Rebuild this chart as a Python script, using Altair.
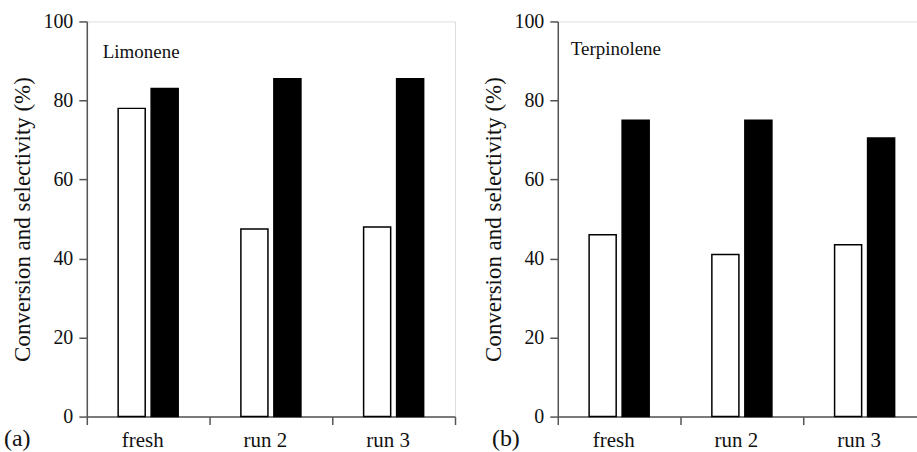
import altair as alt
import pandas as pd

runs = ["fresh", "run 2", "run 3"]
series = ["Conversion", "Selectivity"]

limonene_conversion = [78, 47.5, 48]
limonene_selectivity = [83, 85.5, 85.5]
terpinolene_conversion = [46, 41, 43.5]
terpinolene_selectivity = [75, 75, 70.5]

y_ticks = [0, 20, 40, 60, 80, 100]

FONT = "Liberation Serif"
AX = "#555555"
TXT = "#111111"
W = 369
H = 396


def panel(conv, sel, name, letter, name_x, name_y, letter_x):
    rows = []
    for r, c, s in zip(runs, conv, sel):
        rows.append({"run": r, "series": series[0], "value": c})
        rows.append({"run": r, "series": series[1], "value": s})
    df = pd.DataFrame(rows)

    bars = alt.Chart(df).mark_bar(stroke="black", strokeWidth=1.5).encode(
        x=alt.X(
            "run:N", sort=runs,
            scale=alt.Scale(paddingInner=0, paddingOuter=0),
            axis=alt.Axis(
                title=None, tickBand="extent", labelAngle=0, tickSize=8,
                labelPadding=5, labelFontSize=21, labelFont=FONT,
                labelColor=TXT, domainColor=AX, tickColor=AX,
                domainWidth=1.5, tickWidth=1.5, labelOffset=-6,
            ),
        ),
        xOffset=alt.XOffset(
            "series:N", sort=series,
            scale=alt.Scale(paddingInner=0.18, paddingOuter=0.95),
        ),
        y=alt.Y(
            "value:Q",
            scale=alt.Scale(domain=[0, 100]),
            axis=alt.Axis(
                values=y_ticks, title="Conversion and selectivity (%)",
                tickSize=8, labelPadding=6, labelFontSize=20, labelFont=FONT,
                labelColor=TXT, titleFont=FONT, titleFontSize=23,
                titleFontWeight="normal", titleColor=TXT, titlePadding=8,
                domainColor=AX, tickColor=AX, domainWidth=1.5, tickWidth=1.5,
                grid=False,
            ),
        ),
        fill=alt.Fill(
            "series:N",
            scale=alt.Scale(domain=series, range=["white", "black"]),
            legend=None,
        ),
    )

    name_txt = alt.Chart(pd.DataFrame({"t": [name]})).mark_text(
        align="left", baseline="middle", font=FONT, fontSize=19, color=TXT
    ).encode(x=alt.value(name_x), y=alt.value(name_y), text="t:N")

    letter_txt = alt.Chart(pd.DataFrame({"t": [letter]})).mark_text(
        align="left", baseline="middle", font=FONT, fontSize=24, color=TXT
    ).encode(x=alt.value(letter_x), y=alt.value(418), text="t:N")

    return alt.layer(bars, name_txt, letter_txt).properties(width=W, height=H)


left = panel(limonene_conversion, limonene_selectivity, "Limonene", "(a)", 16, 31, -83)
right = panel(terpinolene_conversion, terpinolene_selectivity, "Terpinolene", "(b)", 13, 28, -66)

chart = alt.hconcat(left, right, spacing=103, bounds="flush").properties(
    padding={"left": 3, "top": 10, "right": -11, "bottom": 0}
).configure_view(
    stroke=AX, strokeWidth=1.5
).configure(
    background="white"
)

chart.save("out.html", embed_options={"renderer": "svg", "actions": False})
